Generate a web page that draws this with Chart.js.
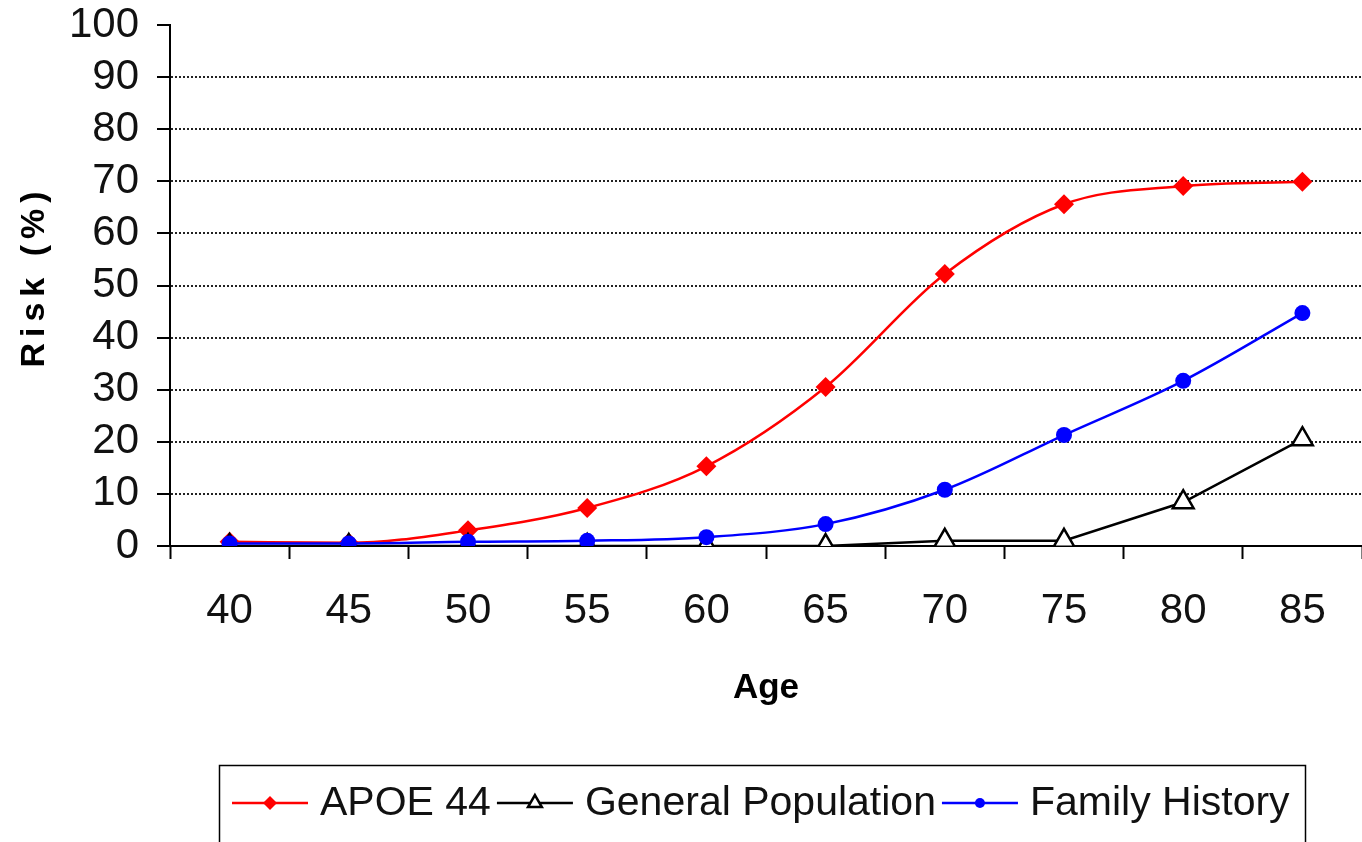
<!DOCTYPE html>
<html>
<head>
<meta charset="utf-8">
<script src="https://cdn.jsdelivr.net/npm/chart.js@4/dist/chart.umd.min.js"></script>
<style>
  html, body { margin: 0; padding: 0; background: #fff; }
  #wrap { width: 1362px; height: 842px; position: relative; }
</style>
</head>
<body>
<div id="wrap"><canvas id="c" width="1362" height="842"></canvas></div>
<script>
// ---- Data ----
const ages = ['40', '45', '50', '55', '60', '65', '70', '75', '80', '85'];
const apoe44 = [0.8, 0.6, 3.0, 7.3, 15.3, 30.5, 52.2, 65.6, 69.1, 69.9];
const generalPopulation = [0, 0, 0, 0, 0, 0, 1.0, 1.0, 8.4, 20.5];
const familyHistory = [0.5, 0.5, 0.8, 1.0, 1.7, 4.2, 10.8, 21.3, 31.7, 44.7];
const seriesLabels = ['APOE 44', 'General Population', 'Family History'];
const yAxisTitle = 'Risk (%)';
const xAxisTitle = 'Age';

const FONT = '"Liberation Sans", Arial, sans-serif';

function drawMarker(ctx, style, x, y, r, fill, stroke, bw) {
  ctx.beginPath();
  if (style === 'rectRot') {
    ctx.moveTo(x - r, y); ctx.lineTo(x, y - r); ctx.lineTo(x + r, y); ctx.lineTo(x, y + r); ctx.closePath();
  } else if (style === 'triangle') {
    const a = 2 * Math.PI / 3;
    ctx.moveTo(x, y - r);
    ctx.lineTo(x + Math.sin(a) * r, y - Math.cos(a) * r);
    ctx.lineTo(x + Math.sin(2 * a) * r, y - Math.cos(2 * a) * r);
    ctx.closePath();
  } else {
    ctx.arc(x, y, r, 0, Math.PI * 2);
  }
  ctx.fillStyle = fill; ctx.fill();
  if (bw > 0) { ctx.lineWidth = bw; ctx.strokeStyle = stroke; ctx.stroke(); }
}

const decorations = {
  id: 'decorations',
  afterDraw(chart) {
    const ctx = chart.ctx;
    const area = chart.chartArea;
    ctx.save();
    ctx.setLineDash([]);
    // Y axis title with letter spacing
    ctx.save();
    ctx.translate(35, (area.top + area.bottom) / 2 - 6);
    ctx.rotate(-Math.PI / 2);
    ctx.font = 'bold 34px ' + FONT;
    if ('letterSpacing' in ctx) ctx.letterSpacing = '6px';
    ctx.fillStyle = '#000';
    ctx.textAlign = 'center';
    ctx.textBaseline = 'middle';
    ctx.fillText(yAxisTitle, 3, 0);
    ctx.restore();

    // Legend box
    ctx.strokeStyle = '#000';
    ctx.lineWidth = 1.5;
    ctx.strokeRect(219.5, 765.5, 1086, 120);
    ctx.font = '41px ' + FONT;
    ctx.textBaseline = 'middle';
    ctx.textAlign = 'left';
    let x = 232;
    const y = 803;
    chart.data.datasets.forEach(ds => {
      ctx.beginPath();
      ctx.strokeStyle = ds.borderColor;
      ctx.lineWidth = ds.borderWidth;
      ctx.moveTo(x, y); ctx.lineTo(x + 76, y); ctx.stroke();
      drawMarker(ctx, ds.pointStyle, x + 38, y, ds.legendRadius, ds.pointBackgroundColor, ds.pointBorderColor, ds.pointBorderWidth);
      x += 76 + 12;
      ctx.fillStyle = '#111';
      ctx.fillText(ds.label, x, y + 1);
      x += ctx.measureText(ds.label).width + 6;
    });
    ctx.restore();
  }
};

new Chart(document.getElementById('c'), {
  type: 'line',
  data: {
    labels: ages,
    datasets: [
      {
        label: seriesLabels[0], data: apoe44,
        borderColor: '#ff0000', backgroundColor: '#ff0000', borderWidth: 2.5,
        pointStyle: 'rectRot', pointRadius: 10, pointBackgroundColor: '#ff0000',
        pointBorderColor: '#ff0000', pointBorderWidth: 0, legendRadius: 7,
        tension: 0.4, cubicInterpolationMode: 'monotone', order: 2
      },
      {
        label: seriesLabels[1], data: generalPopulation,
        borderColor: '#000000', backgroundColor: '#ffffff', borderWidth: 2.5,
        pointStyle: 'triangle', pointRadius: 12, pointBackgroundColor: '#ffffff',
        pointBorderColor: '#000000', pointBorderWidth: 2.5, legendRadius: 8,
        tension: 0, order: 1
      },
      {
        label: seriesLabels[2], data: familyHistory,
        borderColor: '#0000ff', backgroundColor: '#0000ff', borderWidth: 2.5,
        pointStyle: 'circle', pointRadius: 8, pointBackgroundColor: '#0000ff',
        pointBorderColor: '#0000ff', pointBorderWidth: 0, legendRadius: 5,
        tension: 0.4, cubicInterpolationMode: 'monotone', order: 0
      }
    ]
  },
  options: {
    responsive: false,
    animation: false,
    devicePixelRatio: 1,
    layout: { autoPadding: false, padding: { top: 25, right: 0, bottom: 130, left: 0 } },
    plugins: {
      legend: { display: false },
      tooltip: { enabled: false }
    },
    scales: {
      x: {
        type: 'category',
        offset: true,
        grid: {
          offset: true, drawOnChartArea: false, drawTicks: true,
          tickLength: 13, tickColor: '#000', tickWidth: 2
        },
        border: { display: true, color: '#000', width: 2 },
        ticks: { color: '#111', font: { family: FONT, size: 42 }, padding: 27, maxRotation: 0, autoSkip: false },
        title: {
          display: true, text: xAxisTitle, color: '#000',
          font: { family: FONT, size: 35, weight: 'bold' }, padding: { top: 0, bottom: 3 }
        },
        afterFit(scale) { scale.height = 166; scale.paddingLeft = 0; scale.paddingRight = 0; }
      },
      y: {
        min: 0, max: 100,
        ticks: { stepSize: 10, autoSkip: false, color: '#111', font: { family: FONT, size: 42 }, padding: 18 },
        grid: {
          drawTicks: true, tickLength: 13, tickColor: '#000', tickWidth: 2,
          color: ctx => (ctx.tick && (ctx.tick.value === 0 || ctx.tick.value === 100)) ? 'rgba(0,0,0,0)' : '#222',
          lineWidth: 2
        },
        border: { display: true, color: '#000', width: 2, dash: [2, 2] },
        title: { display: false },
        afterFit(scale) { scale.width = 170; scale.paddingTop = 0; scale.paddingBottom = 0; }
      }
    }
  },
  plugins: [decorations]
});
</script>
</body>
</html>
